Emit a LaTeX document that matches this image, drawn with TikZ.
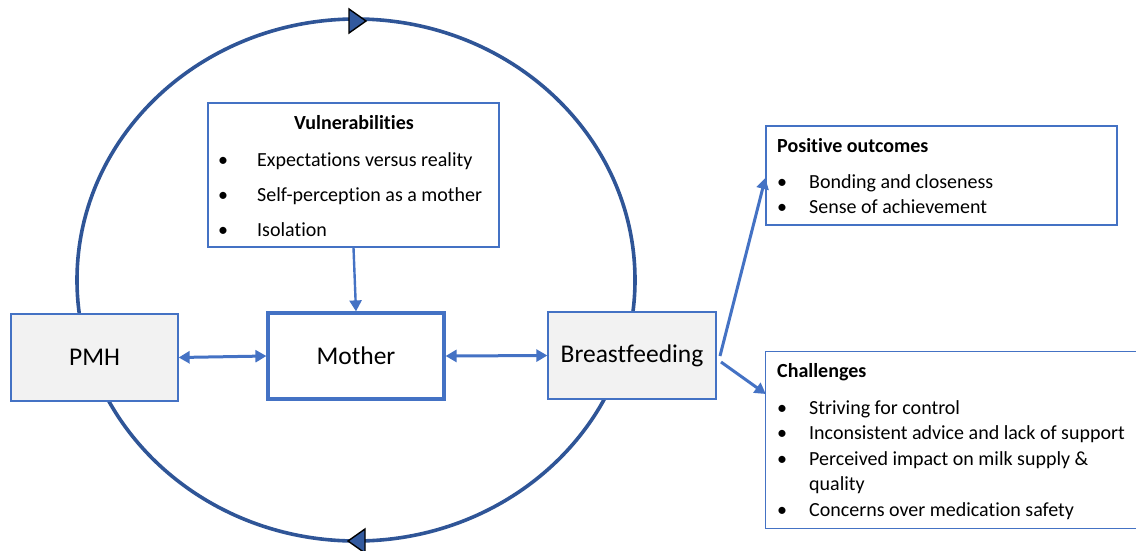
\documentclass[tikz,border=0pt]{standalone}
\usepackage{fontspec}
\setmainfont{Carlito}[Ligatures={NoCommon,NoContextual}]
\usetikzlibrary{arrows.meta}
\definecolor{bx}{HTML}{4472C4}
\definecolor{circ}{HTML}{2F5597}
\definecolor{gr}{HTML}{F2F2F2}
\begin{document}
\begin{tikzpicture}[x=1pt,y=-1pt,
  box/.style={draw=bx,line width=1.3pt,rectangle,inner sep=0pt},
  graybox/.style={box,fill=gr,font=\fontsize{25.5}{30}\selectfont},
  ring/.style={draw=circ,line width=3.6pt},
  tri/.style={draw=black,fill=circ!85!bx,line width=1.4pt,line join=miter},
  con/.style={draw=bx,line width=3pt,arrows={-{Triangle[length=11pt,width=12pt]}}},
  dcon/.style={con,arrows={{Triangle[length=11pt,width=12pt]}-{Triangle[length=11pt,width=12pt]}}},
  txt/.style={anchor=base west,inner sep=0pt,font=\fontsize{20}{24}\selectfont},
  bul/.style={anchor=base west,inner sep=0pt,font=\fontsize{20}{24}\selectfont},
  ttl/.style={anchor=base west,inner sep=0pt,font=\bfseries\fontsize{20}{24}\selectfont}
]
\useasboundingbox (0,0) rectangle (1136,550);
% ring
\draw[ring] (356,280) ellipse [x radius=279, y radius=261];
\coordinate (ctop) at (357,21);
\coordinate (cbot) at (357,541);
\draw[tri] ([shift={(-8,-12)}]ctop) -- ([shift={(9,0)}]ctop) -- ([shift={(-8,12)}]ctop) -- cycle;
\draw[tri] ([shift={(8,-12)}]cbot) -- ([shift={(-9,0)}]cbot) -- ([shift={(8,12)}]cbot) -- cycle;
% main boxes
\node[graybox,minimum width=167pt,minimum height=87pt] (pmh) at (94.5,357.5) {PMH};
\node[box,fill=white,line width=3.2pt,minimum width=176pt,minimum height=86pt,font=\fontsize{25.5}{30}\selectfont] (mother) at (356,356) {Mother};
\node[graybox,minimum width=168pt,minimum height=87pt] (bf) at (632,355.5) {Breastfeeding};
% vulnerabilities
\node[box,fill=white,minimum width=291pt,minimum height=144pt] (vul) at (353.5,175) {};
\node[anchor=base,inner sep=0pt,font=\bfseries\fontsize{20}{24}\selectfont] (vt) at (354,129) {Vulnerabilities};
\node[bul] (vb1) at (218,166) {•};
\node[txt] (vx1) at (257,166) {Expectations versus reality};
\node[bul] (vb2) at (218,201) {•};
\node[txt] (vx2) at (257,201) {Self-perception as a mother};
\node[bul] (vb3) at (218,236) {•};
\node[txt] (vx3) at (257,236) {Isolation};
% positive outcomes
\node[box,minimum width=351pt,minimum height=99pt] (pos) at (941.5,175.5) {};
\node[ttl] (pt) at (777,152) {Positive outcomes};
\node[bul] (pb1) at (777,188) {•};
\node[txt] (px1) at (809,188) {Bonding and closeness};
\node[bul] (pb2) at (777,213) {•};
\node[txt] (px2) at (809,213) {Sense of achievement};
% challenges (open to the right)
\node[rectangle,inner sep=0pt,minimum width=370pt,minimum height=176pt] (ch) at (951,440) {};
\draw[draw=bx,line width=1.3pt] (ch.north east) -- (ch.north west) -- (ch.south west) -- (ch.south east);
\node[ttl] (ct) at (777,377) {Challenges};
\node[bul] (cb1) at (777,414) {•};
\node[txt] (cx1) at (809,414) {Striving for control};
\node[bul] (cb2) at (777,439.5) {•};
\node[txt] (cx2) at (809,439.5) {Inconsistent advice and lack of support};
\node[bul] (cb3) at (777,465) {•};
\node[txt] (cx3) at (809,465) {Perceived impact on milk supply \&};
\node[txt] (cx4) at (809,490.5) {quality};
\node[bul] (cb5) at (777,516) {•};
\node[txt] (cx5) at (809,516) {Concerns over medication safety};
% connectors
\draw[con,line width=2.4pt] (vul.south) -- (mother.north);
\draw[dcon] (pmh.east) -- (mother.west);
\draw[dcon] (mother.east) -- (bf.east -| bf.west);
\coordinate (bfo1) at (720,356);
\coordinate (bfo2) at (721,362);
\draw[con] (bfo1) -- (pos.west |- 0,178);
\draw[con] (bfo2) -- (ch.west |- 0,394);
\end{tikzpicture}
\end{document}
